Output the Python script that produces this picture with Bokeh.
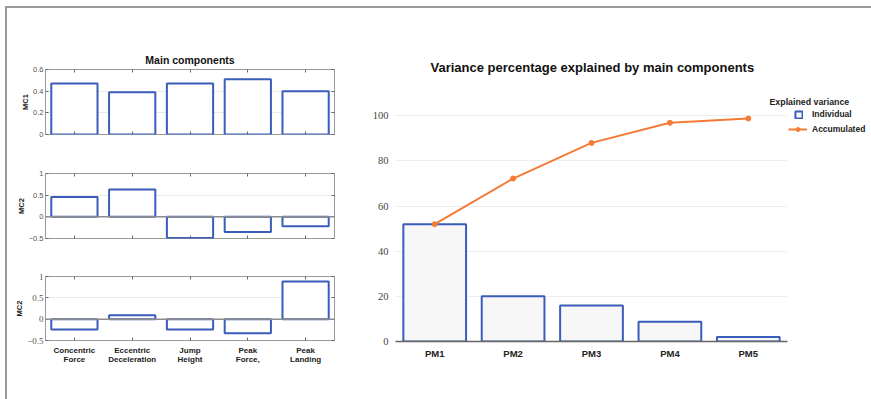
from bokeh.plotting import figure
from bokeh.layouts import row, column
from bokeh.models import (Div, Span, FixedTicker, LinearAxis, Range1d, Legend,
                          LegendItem, Label, BoxAnnotation)
from bokeh.embed import file_html
from bokeh.resources import INLINE

# ---- data -------------------------------------------------------------
variables = ["Concentric Force", "Eccentric Deceleration", "Jump Height",
             "Peak Force,", "Peak Landing"]
mc1_loadings = [0.47, 0.39, 0.47, 0.51, 0.40]
mc2_loadings = [0.46, 0.63, -0.49, -0.35, -0.22]
mc3_loadings = [-0.24, 0.09, -0.24, -0.33, 0.88]
panel_labels = ["MC1", "MC2", "MC2"]
mc1_ticks = [0, 0.2, 0.4, 0.6]
mc23_ticks = [-0.5, 0, 0.5, 1]

components = ["PM1", "PM2", "PM3", "PM4", "PM5"]
individual = [52.0, 20.0, 15.9, 8.8, 2.0]
accumulated = [52.0, 72.2, 88.0, 96.9, 98.8]
variance_ticks = [0, 20, 40, 60, 80, 100]

BLUE = "#3a5cba"
ORANGE = "#f47a35"
SANS = "Liberation Sans"
SERIF = "Liberation Serif"
TICK = "#666666"

# bar slots 1..n along a numeric x axis
var_pos = list(range(1, len(variables) + 1))
comp_pos = list(range(1, len(components) + 1))


def bare_axis(**kw):
    """Axis that only contributes short inward tick marks."""
    return LinearAxis(axis_line_color=None, major_tick_in=3, major_tick_out=0,
                      major_tick_line_color=TICK, minor_tick_line_color=None,
                      major_label_text_color=None, major_label_text_font_size="1px",
                      major_label_standoff=0, **kw)


def loading_panel(values, label, y_lo, y_hi, ticks, height, top, bottom,
                  tick_font, show_names=False, title=None):
    p = figure(x_range=Range1d(0.5, len(variables) + 0.5),
               y_range=Range1d(y_lo, y_hi),
               width=338, height=height,
               min_border_left=38, min_border_right=11,
               min_border_top=top, min_border_bottom=bottom,
               toolbar_location=None, output_backend="svg")
    p.vbar(x=var_pos, top=values, width=0.8, fill_color="white",
           line_color=BLUE, line_width=2)
    p.outline_line_color = "#9a9a9a"
    p.outline_line_width = 1
    p.xgrid.visible = False
    p.ygrid.grid_line_color = "#e9e9e9"
    p.ygrid.ticker = FixedTicker(ticks=ticks)
    if y_lo < 0:
        p.add_layout(Span(location=0, dimension="width",
                          line_color="#8c8c8c", line_width=1.5))

    yax = p.yaxis[0]
    yax.ticker = FixedTicker(ticks=ticks)
    yax.axis_line_color = None
    yax.major_tick_in = 3
    yax.major_tick_out = 0
    yax.minor_tick_line_color = None
    yax.major_tick_line_color = TICK
    yax.major_label_text_font = tick_font
    yax.major_label_text_font_size = "7.5px" if tick_font == SANS else "9px"
    yax.major_label_text_color = "#555555"
    yax.major_label_standoff = 2
    yax.axis_label = label
    yax.axis_label_text_font = SANS
    yax.axis_label_text_font_style = "bold"
    yax.axis_label_text_font_size = "7.5px"
    yax.axis_label_text_color = "#222222"
    yax.axis_label_standoff = 0

    xax = p.xaxis[0]
    xax.ticker = FixedTicker(ticks=var_pos)
    xax.axis_line_color = None
    xax.major_tick_in = 3
    xax.major_tick_out = 0
    xax.minor_tick_line_color = None
    xax.major_tick_line_color = TICK
    if show_names:
        # variable names on two lines: first word, then the rest below it
        first = {i: v.split(" ", 1)[0] for i, v in zip(var_pos, variables)}
        second = {i: v.split(" ", 1)[1] for i, v in zip(var_pos, variables)}
        name_style = dict(major_label_text_font=SANS,
                          major_label_text_font_style="bold",
                          major_label_text_font_size="8px",
                          major_label_text_color="#222222")
        xax.major_label_overrides = first
        xax.major_label_standoff = 5
        for k, v in name_style.items():
            setattr(xax, k, v)
        lower = LinearAxis(ticker=FixedTicker(ticks=var_pos), axis_line_color=None,
                           major_tick_in=0, major_tick_out=0,
                           minor_tick_line_color=None, major_label_standoff=-3,
                           major_label_overrides=second, **name_style)
        p.add_layout(lower, "below")
    else:
        xax.major_label_text_color = None
        xax.major_label_text_font_size = "1px"
        xax.major_label_standoff = 0

    p.add_layout(bare_axis(ticker=FixedTicker(ticks=var_pos)), "above")
    p.add_layout(bare_axis(ticker=FixedTicker(ticks=ticks)), "right")

    if title:
        p.title.text = title
        p.title.align = "center"
        p.title.text_font = SANS
        p.title.text_font_style = "bold"
        p.title.text_font_size = "10.5px"
        p.title.text_color = "#111111"
        p.title.standoff = 8
    return p


f1 = loading_panel(mc1_loadings, panel_labels[0], 0, 0.6, mc1_ticks,
                   132, 61, 6, SANS, title="Main components")
f2 = loading_panel(mc2_loadings, panel_labels[1], -0.5, 1, mc23_ticks,
                   105, 33, 7, SANS)
f3 = loading_panel(mc3_loadings, panel_labels[2], -0.5, 1, mc23_ticks,
                   154, 31, 59, SERIF, show_names=True)

# ---- explained variance ---------------------------------------------
# the frame runs on to the right edge so the legend has room; bars occupy 0.5..5.5
n = len(components)
pv = figure(x_range=Range1d(0.5, n + 0.5 + 474 / 78.4 - n),
            y_range=Range1d(0, 109), width=526, height=391,
            min_border_left=50, min_border_right=2,
            min_border_top=87, min_border_bottom=58,
            toolbar_location=None, output_backend="svg")
bars = pv.vbar(x=comp_pos, top=individual, width=0.8, fill_color="#f7f7f7",
               line_color=BLUE, line_width=2)
line_r = pv.line(comp_pos, accumulated, line_color=ORANGE, line_width=2)
dots_r = pv.scatter(comp_pos, accumulated, size=5, fill_color=ORANGE,
                    line_color=ORANGE)

pv.outline_line_color = None
pv.xgrid.visible = False
grid = pv.ygrid[0]
grid.grid_line_color = "#eeeeee"
grid.ticker = FixedTicker(ticks=variance_ticks)
if "cross_bounds" in grid.properties():
    grid.cross_bounds = (0.5, n + 0.5)
else:
    pv.add_layout(BoxAnnotation(left=n + 0.5, fill_color="white", fill_alpha=1,
                                line_color=None, level="underlay"))

vy = pv.yaxis[0]
vy.ticker = FixedTicker(ticks=variance_ticks)
vy.axis_line_color = None
vy.major_tick_line_color = None
vy.minor_tick_line_color = None
vy.major_label_text_font = SERIF
vy.major_label_text_font_size = "10.5px"
vy.major_label_text_color = "#444444"
vy.major_label_standoff = 1

vx = pv.xaxis[0]
vx.ticker = FixedTicker(ticks=comp_pos)
vx.major_label_overrides = dict(zip(comp_pos, components))
vx.bounds = (0.5, n + 0.5)
vx.axis_line_color = "#666666"
vx.axis_line_width = 1.5
vx.major_tick_line_color = None
vx.minor_tick_line_color = None
vx.major_label_text_font = SANS
vx.major_label_text_font_style = "bold"
vx.major_label_text_font_size = "9.5px"
vx.major_label_text_color = "#222222"
vx.major_label_standoff = 0

pv.title.text = "Variance percentage explained by main components"
pv.title.align = "left"
pv.title.offset = 35
pv.title.text_font = SANS
pv.title.text_font_style = "bold"
pv.title.text_font_size = "13px"
pv.title.text_color = "#111111"
pv.title.standoff = 42

# legend: heading, then one entry per series
pv.add_layout(Label(x=374, y=240, x_units="screen", y_units="screen",
                    text="Explained variance", text_font=SANS,
                    text_font_style="bold", text_font_size="8.8px",
                    text_color="#222222", text_baseline="middle"))
item_style = dict(label_text_font=SANS, label_text_font_style="bold",
                  label_text_font_size="8.5px", label_text_color="#222222",
                  padding=0, margin=0, spacing=0, border_line_color=None,
                  background_fill_alpha=0)
pv.add_layout(Legend(items=[LegendItem(label="Individual", renderers=[bars])],
                     location=(399, 222), glyph_width=9, glyph_height=9,
                     label_height=9, label_standoff=9, **item_style))
pv.add_layout(Legend(items=[LegendItem(label="Accumulated",
                                       renderers=[line_r, dots_r])],
                     location=(393, 207), glyph_width=19, glyph_height=10,
                     label_height=10, label_standoff=5, **item_style))

# ---- page frame: grey rule along top and left edges -------------------
gap_top = Div(text="", width=871, height=6, margin=0)
gap_left = Div(text="", width=5, height=393, margin=0)
rule_left = Div(text="", width=2, height=393, margin=0,
                styles={"background-color": "#9b9b9b"})
rule_top = Div(text="", width=864, height=2, margin=0,
               styles={"background-color": "#9b9b9b"})

panels = row(column(f1, f2, f3, spacing=0), pv, spacing=0)
page = column(gap_top,
              row(gap_left, rule_left, column(rule_top, panels, spacing=0), spacing=0),
              spacing=0)

open("out.html", "w").write(file_html(page, INLINE))
